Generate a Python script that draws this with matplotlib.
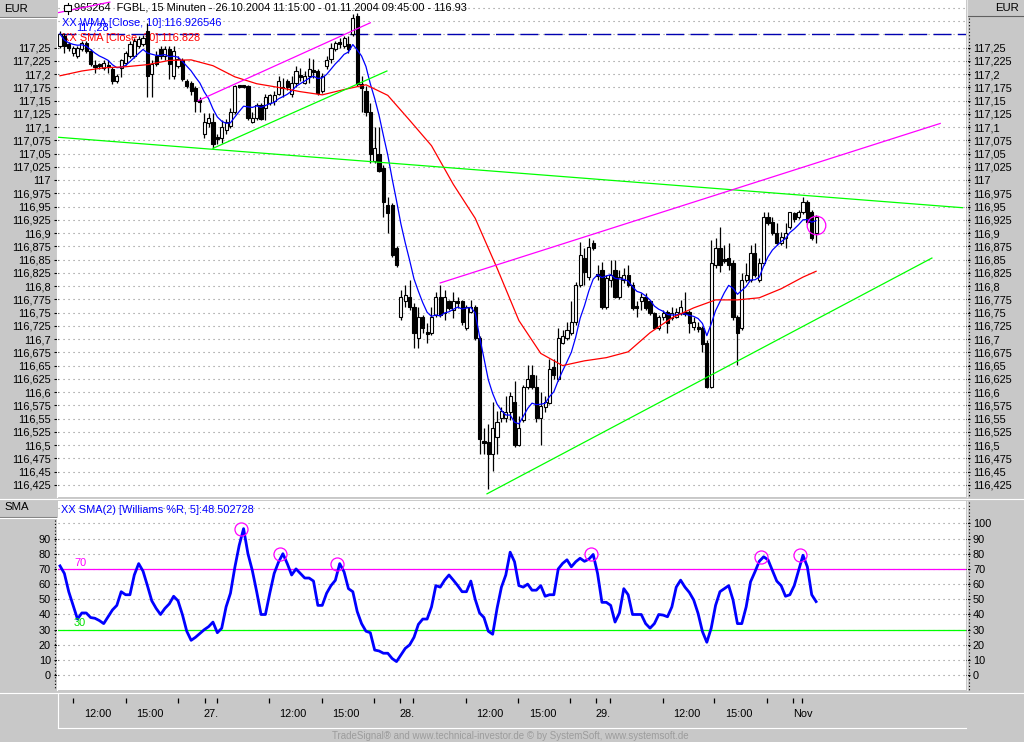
import numpy as np
import matplotlib
matplotlib.use("Agg")
import matplotlib.pyplot as plt
from matplotlib.patches import Rectangle
from matplotlib.lines import Line2D

plt.rcParams['font.family'] = ['Liberation Sans', 'DejaVu Sans']

# ---------------- data (15-minute bars, FGBL) ----------------
opens = [117.254, 117.272, 117.257, 117.240, 117.235, 117.248, 117.259, 117.244, 117.218, 117.220,
         117.212, 117.218, 117.210, 117.188, 117.212, 117.222, 117.235, 117.235, 117.254, 117.257,
         117.282, 117.201, 117.235, 117.248, 117.235, 117.248, 117.197, 117.216, 117.226, 117.188,
         117.184, 117.173, 117.152, 117.088, 117.107, 117.109, 117.081, 117.079, 117.094, 117.103,
         117.128, 117.180, 117.180, 117.178, 117.109, 117.118, 117.141, 117.137, 117.146, 117.150,
         117.163, 117.176, 117.188, 117.163, 117.184, 117.199, 117.184, 117.197, 117.208, 117.206,
         117.169, 117.216, 117.229, 117.248, 117.261, 117.254, 117.257, 117.276, 117.310, 117.182,
         117.169, 117.128, 117.037, 117.050, 117.022, 116.953, 116.953, 116.872, 116.742, 116.771,
         116.780, 116.761, 116.703, 116.742, 116.714, 116.712, 116.746, 116.780, 116.750, 116.771,
         116.755, 116.772, 116.771, 116.721, 116.751, 116.761, 116.703, 116.507, 116.505, 116.483,
         116.515, 116.552, 116.552, 116.562, 116.582, 116.501, 116.548, 116.610, 116.633, 116.610,
         116.552, 116.571, 116.580, 116.648, 116.624, 116.693, 116.703, 116.712, 116.733, 116.802,
         116.853, 116.817, 116.881, 116.823, 116.830, 116.761, 116.812, 116.830, 116.780, 116.812,
         116.821, 116.802, 116.763, 116.771, 116.780, 116.771, 116.750, 116.721, 116.742, 116.751,
         116.740, 116.742, 116.750, 116.751, 116.751, 116.723, 116.723, 116.721, 116.693, 116.610,
         116.840, 116.872, 116.851, 116.853, 116.844, 116.742, 116.721, 116.812, 116.812, 116.862,
         116.812, 116.844, 116.930, 116.921, 116.900, 116.881, 116.891, 116.911, 116.938, 116.930,
         116.940, 116.958, 116.940, 116.900]
highs = [117.282, 117.278, 117.261, 117.254, 117.254, 117.263, 117.263, 117.248, 117.226, 117.222,
         117.226, 117.226, 117.214, 117.201, 117.229, 117.244, 117.263, 117.269, 117.272, 117.274,
         117.297, 117.226, 117.244, 117.254, 117.254, 117.254, 117.254, 117.235, 117.231, 117.191,
         117.188, 117.178, 117.156, 117.126, 117.126, 117.126, 117.088, 117.113, 117.116, 117.137,
         117.180, 117.180, 117.180, 117.180, 117.128, 117.145, 117.145, 117.163, 117.163, 117.169,
         117.197, 117.193, 117.191, 117.197, 117.216, 117.212, 117.206, 117.231, 117.229, 117.210,
         117.203, 117.235, 117.259, 117.263, 117.269, 117.272, 117.272, 117.314, 117.316, 117.197,
         117.178, 117.146, 117.100, 117.100, 117.028, 116.968, 116.956, 116.876, 116.793, 116.802,
         116.812, 116.769, 116.761, 116.746, 116.731, 116.761, 116.789, 116.802, 116.793, 116.774,
         116.789, 116.780, 116.774, 116.765, 116.774, 116.765, 116.706, 116.533, 116.539, 116.582,
         116.564, 116.571, 116.592, 116.601, 116.620, 116.554, 116.614, 116.652, 116.652, 116.633,
         116.601, 116.592, 116.662, 116.662, 116.721, 116.718, 116.733, 116.771, 116.808, 116.883,
         116.872, 116.891, 116.887, 116.840, 116.845, 116.821, 116.849, 116.849, 116.830, 116.834,
         116.840, 116.808, 116.771, 116.787, 116.787, 116.774, 116.751, 116.746, 116.755, 116.755,
         116.761, 116.759, 116.774, 116.789, 116.755, 116.742, 116.733, 116.725, 116.699, 116.887,
         116.891, 116.911, 116.878, 116.881, 116.849, 116.746, 116.825, 116.844, 116.878, 116.881,
         116.853, 116.940, 116.940, 116.930, 116.919, 116.902, 116.919, 116.940, 116.940, 116.943,
         116.968, 116.962, 116.943, 116.934]
lows = [117.250, 117.240, 117.244, 117.235, 117.231, 117.244, 117.240, 117.216, 117.203, 117.210,
        117.208, 117.203, 117.182, 117.184, 117.195, 117.218, 117.231, 117.231, 117.250, 117.254,
        117.156, 117.156, 117.216, 117.229, 117.226, 117.191, 117.191, 117.212, 117.188, 117.173,
        117.160, 117.128, 117.128, 117.079, 117.100, 117.060, 117.069, 117.071, 117.088, 117.098,
        117.124, 117.173, 117.173, 117.113, 117.107, 117.113, 117.113, 117.113, 117.141, 117.141,
        117.160, 117.156, 117.171, 117.156, 117.175, 117.188, 117.182, 117.184, 117.193, 117.161,
        117.165, 117.210, 117.222, 117.244, 117.250, 117.250, 117.240, 117.272, 117.178, 117.128,
        117.122, 117.032, 117.033, 117.015, 116.930, 116.900, 116.855, 116.836, 116.736, 116.761,
        116.755, 116.684, 116.684, 116.712, 116.693, 116.708, 116.742, 116.742, 116.736, 116.755,
        116.740, 116.759, 116.727, 116.718, 116.750, 116.699, 116.483, 116.483, 116.417, 116.451,
        116.483, 116.543, 116.543, 116.548, 116.496, 116.498, 116.543, 116.605, 116.605, 116.543,
        116.501, 116.562, 116.577, 116.624, 116.620, 116.690, 116.699, 116.708, 116.727, 116.798,
        116.802, 116.812, 116.868, 116.812, 116.757, 116.757, 116.798, 116.778, 116.776, 116.806,
        116.798, 116.755, 116.742, 116.755, 116.755, 116.746, 116.720, 116.718, 116.736, 116.712,
        116.736, 116.740, 116.746, 116.744, 116.712, 116.718, 116.714, 116.675, 116.607, 116.607,
        116.834, 116.827, 116.844, 116.830, 116.736, 116.652, 116.718, 116.808, 116.808, 116.817,
        116.808, 116.840, 116.915, 116.896, 116.878, 116.878, 116.872, 116.908, 116.921, 116.926,
        116.936, 116.917, 116.887, 116.881]
closes = [117.276, 117.254, 117.250, 117.250, 117.250, 117.259, 117.244, 117.220, 117.214, 117.216,
          117.222, 117.214, 117.188, 117.197, 117.226, 117.240, 117.257, 117.263, 117.267, 117.269,
          117.197, 117.220, 117.220, 117.235, 117.248, 117.220, 117.244, 117.229, 117.191, 117.178,
          117.169, 117.150, 117.148, 117.109, 117.118, 117.069, 117.077, 117.100, 117.109, 117.128,
          117.178, 117.176, 117.176, 117.118, 117.118, 117.141, 117.116, 117.156, 117.160, 117.160,
          117.188, 117.173, 117.175, 117.184, 117.206, 117.195, 117.197, 117.210, 117.205, 117.165,
          117.197, 117.226, 117.250, 117.259, 117.257, 117.269, 117.248, 117.306, 117.182, 117.173,
          117.128, 117.050, 117.060, 117.018, 116.958, 116.938, 116.859, 116.840, 116.780, 116.783,
          116.761, 116.712, 116.742, 116.721, 116.710, 116.742, 116.780, 116.746, 116.780, 116.759,
          116.771, 116.769, 116.733, 116.761, 116.761, 116.703, 116.511, 116.503, 116.483, 116.533,
          116.543, 116.564, 116.562, 116.592, 116.501, 116.533, 116.610, 116.624, 116.610, 116.552,
          116.573, 116.582, 116.643, 116.633, 116.703, 116.706, 116.718, 116.733, 116.802, 116.859,
          116.827, 116.874, 116.872, 116.819, 116.761, 116.815, 116.821, 116.780, 116.817, 116.821,
          116.802, 116.759, 116.759, 116.780, 116.759, 116.750, 116.721, 116.742, 116.750, 116.731,
          116.750, 116.751, 116.761, 116.748, 116.731, 116.733, 116.720, 116.690, 116.610, 116.844,
          116.872, 116.840, 116.847, 116.840, 116.742, 116.712, 116.812, 116.821, 116.862, 116.821,
          116.844, 116.930, 116.919, 116.900, 116.881, 116.893, 116.900, 116.940, 116.926, 116.940,
          116.958, 116.921, 116.891, 116.930]

# SMA [Close, 30] at selected bars
sma_bars = [0, 5, 10, 15, 20, 25, 30, 35, 40, 45, 50, 55, 60, 65, 70, 75, 80, 85,
            90, 95, 100, 105, 110, 115, 120, 125, 130, 135, 140, 145, 150, 155, 160, 165, 170, 173]
sma_vals = [117.197, 117.206, 117.212, 117.214, 117.218, 117.226, 117.227, 117.216, 117.195,
            117.182, 117.175, 117.167, 117.161, 117.171, 117.180, 117.160, 117.113, 117.065,
            116.992, 116.928, 116.834, 116.735, 116.673, 116.650, 116.659, 116.665, 116.676,
            116.712, 116.740, 116.759, 116.774, 116.774, 116.778, 116.795, 116.817, 116.828]

# SMA(2) of Williams %R(5)
wr_vals = [72, 67, 55, 46, 37, 41, 41, 38, 37.5, 36,
           34, 38.5, 43, 46, 55, 53, 53, 66, 73.5, 68.5,
           59, 49, 44, 40, 44, 47, 52, 49, 40, 29,
           23, 25, 27.5, 30, 32, 35, 28, 31, 45, 54,
           71, 85.5, 96.5, 80, 69, 55, 40, 40, 54, 67,
           74.5, 80, 73.5, 66, 70, 67, 64, 64, 62, 46,
           46, 54, 59, 62.5, 73.5, 68, 57, 55, 42, 34,
           29, 28, 16.6, 16, 14.5, 14.5, 11, 9, 13.4, 17.7,
           20, 25, 33.5, 37, 37, 45, 59, 58, 62.6, 66,
           62.6, 59, 55, 55, 62, 50, 41, 38, 29, 27,
           44, 58, 66, 81,
           74.7, 59, 58, 60, 56, 56, 59, 52, 53, 53,
           70, 73.6, 76, 71.4, 74.7, 77, 75, 76.4, 79.5, 67,
           48, 48, 46, 35, 41, 57, 53, 40, 40, 40,
           34, 31, 34, 40, 39.6, 38.5, 45, 58, 62.6, 58,
           54.5, 49.5, 40.7, 28.7, 21.7, 31, 46, 55, 57, 59,
           49.5, 34, 34, 45, 61.5, 68, 75, 78, 76, 69,
           62, 59, 52, 53, 59, 69, 79, 71.4, 53, 48.5]
wr_signal_bars = [42, 51, 64, 122, 161, 170]

# drawn trend lines: (bar0, price0, bar1, price1)
green_lines = [(-0.5, 117.081, 206.5, 116.948),
               (35.0, 117.060, 74.8, 117.206),
               (97.7, 116.408, 199.5, 116.853)]
magenta_lines = [(31.6, 117.150, 71.0, 117.297),
                 (-0.5, 117.316, 11.4, 117.336),
                 (87.0, 116.806, 201.4, 117.107)]
hline_level = 117.276
hline_label = "117,28"

price_ticks = [round(116.425 + 0.025 * k, 3) for k in range(34)]
wr_ticks = list(range(0, 101, 10))

xtick_bars = [3, 15.1, 27, 33.2, 35.9, 47.8, 60, 71.9, 77.8, 80.8, 92.9, 104.8,
              116.7, 122.7, 125.9, 138, 149.7, 161.8, 167.7, 169.8]
xlabel_bars = [8.6, 20.5, 34.6, 53.3, 65.4, 79.4, 98.4, 110.5, 124.3, 143.5, 155.4, 170.0]
xlabel_text = ["12:00", "15:00", "27.", "12:00", "15:00", "28.", "12:00", "15:00",
               "29.", "12:00", "15:00", "Nov"]

title = "965264  FGBL, 15 Minuten - 26.10.2004 11:15:00 - 01.11.2004 09:45:00 - 116.93"
wma_label = "XX WMA [Close, 10]:116.926546"
sma_label = "XX SMA [Close, 30]:116.828"
wr_label = "XX SMA(2) [Williams %R, 5]:48.502728"
footer = "TradeSignal\u00ae and www.technical-investor.de \u00a9 by SystemSoft, www.systemsoft.de"

# ---------------- figure ----------------
W, H = 1024, 742
BG = '#c8c8c8'
FS = 7.9
fig = plt.figure(figsize=(W / 100, H / 100), dpi=100, facecolor=BG)


def rect(x0, y0, x1, y1):
    return [x0 / W, 1 - y1 / H, (x1 - x0) / W, (y1 - y0) / H]


def fx(x):
    return x / W


def fy(y):
    return 1 - y / H


XMIN, XMAX = -0.46, 207.3
o = np.array(opens); h = np.array(highs); l = np.array(lows); c = np.array(closes)
n = len(c)
xs = np.arange(n)

# ---- main panel ----
ax = fig.add_axes(rect(58, 0, 966, 497))
ax.set_facecolor('white')
ax.set_xlim(XMIN, XMAX)
ax.set_ylim(116.402, 117.340)
for s in ax.spines.values():
    s.set_visible(False)
ax.set_xticks([])

for k in range(38):
    lv = 116.425 + 0.025 * k
    ax.axhline(lv, color='#8a8a8a', lw=0.8, ls=(0, (1, 3.5)), zorder=1)

ax.set_yticks(price_ticks)
ax.set_yticklabels([(f"{v:.3f}".rstrip('0').rstrip('.')).replace('.', ',') for v in price_ticks])
ax.tick_params(axis='y', left=True, right=True, labelleft=True, labelright=True,
               direction='out', length=3, width=0.8, pad=2, labelsize=FS)

# dashed horizontal level
ax.axhline(hline_level, color='#0000b0', lw=1.0, dashes=(13, 4.5), zorder=2)

# candles
up = c >= o
body_lo = np.minimum(o, c)
body_h = np.maximum(np.abs(c - o), 0.0013)
ax.vlines(xs, l, h, color='black', lw=0.9, zorder=3)
ax.bar(xs[up], body_h[up], bottom=body_lo[up], width=0.72, facecolor='white',
       edgecolor='black', linewidth=0.8, zorder=4)
ax.bar(xs[~up], body_h[~up], bottom=body_lo[~up], width=0.72, facecolor='black',
       edgecolor='black', linewidth=0.8, zorder=4)

# WMA(10) of closes
wts = np.arange(1, 11, dtype=float)
wma = []
for i in range(n):
    seg = c[max(0, i - 9):i + 1]
    ww = wts[-len(seg):]
    wma.append(np.dot(seg, ww) / ww.sum())
ax.plot(xs, wma, color='#0000ff', lw=0.9, zorder=5)
ax.plot(sma_bars, sma_vals, color='#ff0000', lw=0.9, zorder=5)

for (b0, p0, b1, p1) in green_lines:
    ax.plot([b0, b1], [p0, p1], color='#00ff00', lw=0.9, zorder=6, clip_on=True)
for (b0, p0, b1, p1) in magenta_lines:
    ax.plot([b0, b1], [p0, p1], color='#ff00ff', lw=0.9, zorder=6, clip_on=True)

# signal circle at last bar
ax.plot([n - 1], [(o[-1] + c[-1]) / 2], marker='o', ms=13.4, mfc='none', mec='#ff00ff',
        mew=0.9, zorder=7)

# legend texts
tf = fig.transFigure
ax.text(fx(74), fy(8), title, transform=tf, fontsize=FS, color='black', va='center', ha='left', zorder=2)
ax.text(fx(62), fy(23), wma_label, transform=tf, fontsize=FS, color='#0000ff', va='center', ha='left', zorder=2)
ax.text(fx(76), fy(27), hline_label, transform=tf, fontsize=FS, color='#0000ff', va='center', ha='left', zorder=2)
ax.text(fx(62), fy(38), sma_label, transform=tf, fontsize=FS, color='#ff0000', va='center', ha='left', zorder=2)
fig.add_artist(Rectangle((fx(64), fy(11)), 7 / W, 6 / H, transform=tf, facecolor='white',
                         edgecolor='black', lw=0.8, zorder=10))
fig.add_artist(Line2D([fx(67.5), fx(67.5)], [fy(3), fy(5)], transform=tf, color='black', lw=0.8))
fig.add_artist(Line2D([fx(67.5), fx(67.5)], [fy(11), fy(14)], transform=tf, color='black', lw=0.8))

# ---- lower panel ----
ax2 = fig.add_axes(rect(58, 501, 966, 690))
ax2.set_facecolor('white')
ax2.set_xlim(XMIN, XMAX)
ax2.set_ylim(-9.7, 114.7)
for s in ax2.spines.values():
    s.set_visible(False)
ax2.set_xticks([])
for lv in range(0, 111, 10):
    ax2.axhline(lv, color='#8a8a8a', lw=0.8, ls=(0, (1, 3.5)), zorder=1)
ax2.axhline(70, color='#ff00ff', lw=0.9, zorder=2)
ax2.axhline(30, color='#00ff00', lw=0.9, zorder=2)
ax2.plot(xs, wr_vals, color='#0000ff', lw=2.0, zorder=3)
wr_arr = np.array(wr_vals)
ax2.plot(np.array(wr_signal_bars) - 0.6, wr_arr[wr_signal_bars], ls='none', marker='o', ms=9.4,
         mfc='none', mec='#ff00ff', mew=0.9, zorder=4)
ax2.set_yticks(wr_ticks)
ax2.set_yticklabels([str(v) for v in wr_ticks])
ax2.tick_params(axis='y', left=True, right=True, labelleft=True, labelright=True,
                direction='out', length=3, width=0.8, pad=2, labelsize=FS)
ax2.yaxis.get_major_ticks()[-1].label1.set_visible(False)
ax2.yaxis.get_major_ticks()[-1].tick1line.set_visible(False)
ax2.text(fx(61), fy(510), wr_label, transform=tf, fontsize=FS, color='#0000ff', va='center', ha='left')
ax2.text(fx(74), fy(563), "70", transform=tf, fontsize=FS, color='#ff00ff', va='center', ha='left')
ax2.text(fx(74), fy(623), "30", transform=tf, fontsize=FS, color='#00e000', va='center', ha='left')

# ---- time axis strip ----
axx = fig.add_axes(rect(58, 694, 966, 728))
axx.set_facecolor(BG)
axx.set_xlim(XMIN, XMAX)
axx.set_ylim(0, 1)
axx.set_xticks([]); axx.set_yticks([])
for k, s in axx.spines.items():
    s.set_visible(k in ('bottom', 'left'))
    s.set_color('white')
axx.vlines(xtick_bars, 0.74, 0.87, color='black', lw=0.9)
for b, t in zip(xlabel_bars, xlabel_text):
    axx.text(b, 0.42, t, ha='center', va='center', fontsize=FS)

# ---- frame decorations ----
def fline(x0, y0, x1, y1, **kw):
    fig.add_artist(Line2D([fx(x0), fx(x1)], [fy(y0), fy(y1)], transform=tf, **kw))

fig.text(fx(4), fy(9), "EUR", fontsize=FS + 0.3, va='center', ha='left')
fig.text(fx(1019), fy(8), "EUR", fontsize=FS + 0.3, va='center', ha='right')
fig.text(fx(4), fy(507), "SMA", fontsize=FS + 0.3, va='center', ha='left')
fline(0, 16.5, 56, 16.5, color='#808080', lw=0.8)
fline(0, 17.5, 56, 17.5, color='white', lw=0.8)
fline(966.5, 16, 1024, 16, color='#606060', lw=0.8)
fline(0, 516.5, 56, 516.5, color='#808080', lw=0.8)
fline(0, 517.5, 56, 517.5, color='white', lw=0.8)
fline(0, 498.5, 1024, 498.5, color='white', lw=0.8)
fline(56.5, 18, 56.5, 497, color='white', lw=0.8)
fline(56.5, 518, 56.5, 690, color='white', lw=0.8)
fline(966.5, 0, 966.5, 497, color='#e8e8e8', lw=0.8)
fline(966.5, 501, 966.5, 690, color='#e8e8e8', lw=0.8)
fline(969, 18, 969, 497, color='black', lw=0.8, ls=(0, (1, 2)))
fline(969, 502, 969, 690, color='black', lw=0.8, ls=(0, (1, 2)))
fline(55, 520, 55, 690, color='black', lw=0.8, ls=(0, (1, 2)))
fline(0, 692.5, 1024, 692.5, color='white', lw=0.8)

fig.text(fx(510), fy(736), footer, fontsize=7.0, color='#9c9c9c', ha='center', va='center')

fig.savefig("out.png", dpi=100, facecolor=BG)
